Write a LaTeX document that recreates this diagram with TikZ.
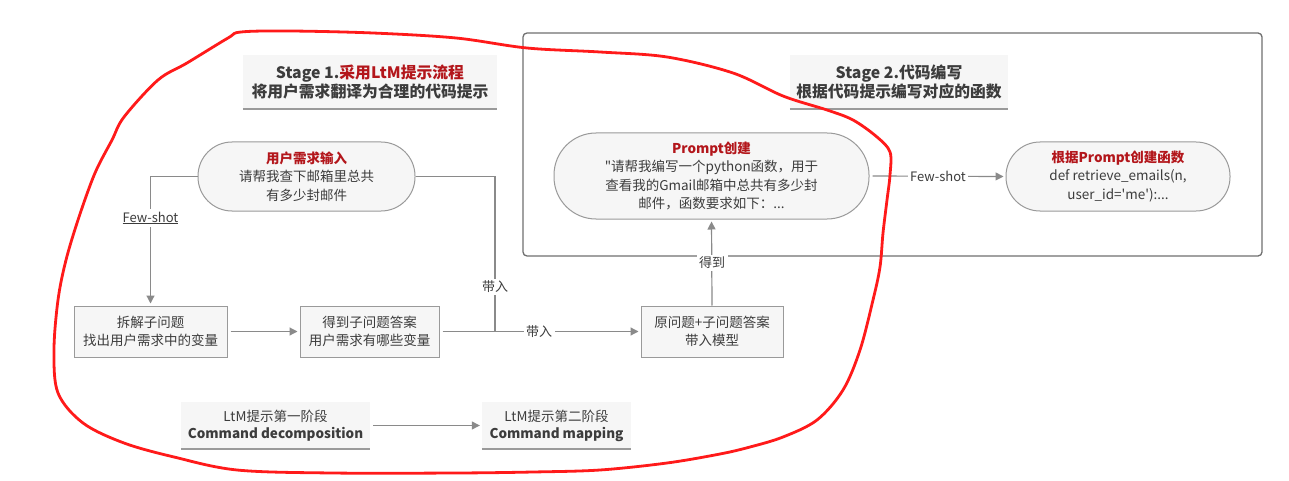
\documentclass[tikz,border=0pt]{standalone}
\usepackage{fontspec}
\setmainfont{Noto Sans CJK SC}[Ligatures=TeXOff]
\usetikzlibrary{arrows.meta}
\definecolor{txt}{HTML}{3C3C3C}
\definecolor{ttl}{HTML}{B3161B}
\definecolor{ln}{HTML}{8A8A8A}
\definecolor{bd}{HTML}{9A9A9A}
\definecolor{fl}{HTML}{F6F6F6}
\definecolor{frm}{HTML}{707070}
\definecolor{pen}{HTML}{FF1A1A}
\begin{document}
\begin{tikzpicture}[x=1pt,y=-1pt,
  every node/.style={text=txt, inner sep=0pt, align=center},
  pill/.style={draw=bd, fill=fl, line width=1pt, font=\fontsize{13.5}{18.5}\selectfont},
  boxn/.style={draw=bd, fill=fl, line width=1pt, font=\fontsize{13.5}{18.5}\selectfont},
  hdr/.style={fill=fl, font=\fontsize{15.8}{19.5}\selectfont\bfseries},
  sub/.style={fill=fl, font=\fontsize{13.5}{17}\selectfont},
  hline/.style={draw=bd, line width=1.6pt},
  frame/.style={draw=frm, line width=1.3pt, rounded corners=4pt},
  conn/.style={draw=ln, line width=1.2pt},
  arr/.style={conn, -{Triangle[length=8pt,width=8pt]}, shorten >=2pt, shorten <=3pt},
  lbl/.style={fill=white, inner sep=2.5pt, font=\fontsize{13}{16}\selectfont},
  redpen/.style={draw=pen, line width=2.8pt, line join=round}
]
\useasboundingbox[fill=white] (0,0) rectangle (1289,481);

% frame of stage 2
\node[frame, minimum width=739pt, minimum height=223pt] (fr) at (892.5,144.5) {};

% headers
\node[hdr, minimum width=254pt, minimum height=54pt] (h1) at (370,82)
  {Stage 1.\textcolor{ttl}{采用LtM提示流程}\\将用户需求翻译为合理的代码提示};
\draw[hline] (h1.south west) -- (h1.south east);
\node[hdr, minimum width=218pt, minimum height=54pt] (h2) at (899,82)
  {Stage 2.代码编写\\根据代码提示编写对应的函数};
\draw[hline] (h2.south west) -- (h2.south east);

% pills
\node[pill, minimum width=217pt, minimum height=69pt, rounded corners=34pt] (p1) at (306.5,176.5)
  {\textcolor{ttl}{\bfseries 用户需求输入}\\请帮我查下邮箱里总共\\有多少封邮件};
\node[pill, minimum width=315pt, minimum height=86pt, rounded corners=42pt] (p2) at (711.5,176)
  {\textcolor{ttl}{\bfseries Prompt创建}\\"请帮我编写一个python函数，用于\\查看我的Gmail邮箱中总共有多少封\\邮件，函数要求如下：...};
\node[pill, minimum width=224pt, minimum height=69pt, rounded corners=34pt] (p3) at (1118,176.5)
  {\textcolor{ttl}{\bfseries 根据Prompt创建函数}\\def retrieve\_emails(n,\\user\_id='me'):...};

% boxes
\node[boxn, minimum width=153pt, minimum height=51pt] (b1) at (150.5,331.5)
  {拆解子问题\\找出用户需求中的变量};
\node[boxn, minimum width=139pt, minimum height=51pt] (b2) at (369.5,331.5)
  {得到子问题答案\\用户需求有哪些变量};
\node[boxn, minimum width=142pt, minimum height=51pt] (b3) at (712,331.5)
  {原问题+子问题答案\\带入模型};

% bottom stage labels
\node[sub, minimum width=189pt, minimum height=47pt] (s1) at (275.5,425.5)
  {LtM提示第一阶段\\\textbf{Command decomposition}};
\draw[hline] (s1.south west) -- (s1.south east);
\node[sub, minimum width=149pt, minimum height=47pt] (s2) at (556.5,425.5)
  {LtM提示第二阶段\\\textbf{Command mapping}};
\draw[hline] (s2.south west) -- (s2.south east);

% connectors
\coordinate (j) at (495,331.5);
\draw[arr, shorten <=0pt] (p1.west) -| (b1.north);
\node[lbl] (fs1) at (150.5,218) {\underline{Few-shot}};
\draw[conn] (p1.east) -| (j);
\node[lbl] (l1) at (495,287) {带入};
\draw[arr] (b1.east) -- (b2.west);
\draw[arr] (b2.east) -- (b3.west);
\node[lbl] (l2) at (539,331.5) {带入};
\draw[arr, shorten <=0pt] (b3.north) -- (p2.south);
\node[lbl] (l3) at (712,263) {得到};
\draw[arr] (p2.east) -- (p3.west);
\node[lbl] (l4) at (938,176) {Few-shot};
\draw[arr] (s1.east) -- (s2.west);

% red hand-drawn loop
\draw[redpen] plot[smooth cycle, tension=0.55] coordinates {
 (241,32) (290,31) (373,33) (456,38) (527,48) (600,52) (667,57) (733,73) (783,96)
 (827,110) (853,120) (877,137) (890,152) (890,175) (887,200) (883,233) (880,267)
 (873,300) (860,350) (843,390) (817,420) (783,437) (750,447) (720,454) (667,463)
 (600,470) (533,472) (456,473) (332,473) (237,470) (174,457) (124,443) (83,423)
 (58,393) (54,350) (58,300) (66,260) (79,217) (95,173) (112,140) (124,117) (158,80)
 (187,63) (228,38)};
\end{tikzpicture}
\end{document}
